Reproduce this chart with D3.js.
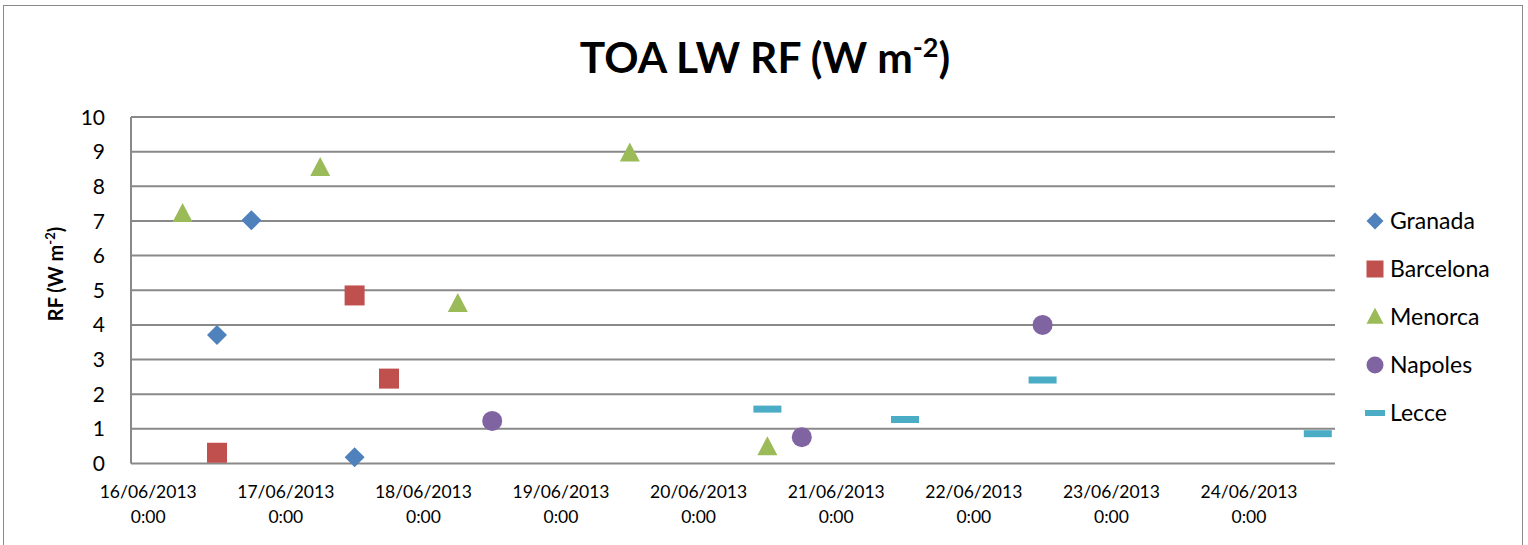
<!DOCTYPE html>
<html>
<head>
<meta charset="utf-8">
<script src="https://cdn.jsdelivr.net/npm/d3@7"></script>
<style>
  body { margin: 0; background: #fff; }
  svg { display: block; font-family: Lato, "Open Sans", sans-serif; }
</style>
</head>
<body>
<div class="container"></div>
<script>
const width = 1528, height = 545;
const margin = {top: 117, right: 193, bottom: 81, left: 131};

// data (dates dd/mm/yyyy hh:mm, RF in W m-2)
const seriesNames = ["Granada", "Barcelona", "Menorca", "Napoles", "Lecce"];
const granadaTimes = ["16/06/2013 12:00", "16/06/2013 18:00", "17/06/2013 12:00"];
const granadaValues = [3.71, 7.02, 0.18];
const barcelonaTimes = ["16/06/2013 12:00", "17/06/2013 12:00", "17/06/2013 18:00"];
const barcelonaValues = [0.31, 4.85, 2.45];
const menorcaTimes = ["16/06/2013 6:00", "17/06/2013 6:00", "18/06/2013 6:00", "19/06/2013 12:00", "20/06/2013 12:00"];
const menorcaValues = [7.2, 8.53, 4.6, 8.95, 0.47];
const napolesTimes = ["18/06/2013 12:00", "20/06/2013 18:00", "22/06/2013 12:00"];
const napolesValues = [1.23, 0.76, 4.0];
const lecceTimes = ["20/06/2013 12:00", "21/06/2013 12:00", "22/06/2013 12:00", "24/06/2013 12:00"];
const lecceValues = [1.57, 1.27, 2.41, 0.86];
const xTickLabels = ["16/06/2013", "17/06/2013", "18/06/2013", "19/06/2013", "20/06/2013",
                     "21/06/2013", "22/06/2013", "23/06/2013", "24/06/2013"];
const yTicks = [0, 1, 2, 3, 4, 5, 6, 7, 8, 9, 10];

const colors = ["#4F81BD", "#C0504D", "#9BBB59", "#8064A2", "#4BACC6"];
const shapes = ["diamond", "square", "triangle", "circle", "dash"];

const parseTime = d3.utcParse("%d/%m/%Y %H:%M");
const parseDay = d3.utcParse("%d/%m/%Y");

const series = [
  [granadaTimes, granadaValues],
  [barcelonaTimes, barcelonaValues],
  [menorcaTimes, menorcaValues],
  [napolesTimes, napolesValues],
  [lecceTimes, lecceValues]
].map(([t, v], i) => ({
  name: seriesNames[i], color: colors[i], shape: shapes[i],
  points: t.map((s, j) => ({date: parseTime(s), value: v[j]}))
}));

const svg = d3.select(".container").append("svg")
  .attr("width", width).attr("height", height);

// outer chart border
svg.append("rect")
  .attr("x", 3.5).attr("y", 5.5).attr("width", 1519).attr("height", 560)
  .attr("fill", "none").attr("stroke", "#898989").attr("stroke-width", 1);

const x = d3.scaleUtc()
  .domain([parseTime("15/06/2013 21:00"), parseTime("24/06/2013 15:00")])
  .range([margin.left, width - margin.right]);
const y = d3.scaleLinear().domain([0, 10]).range([height - margin.bottom - 0.5, margin.top]);

// gridlines
svg.append("g").selectAll("line").data(yTicks).join("line")
  .attr("x1", margin.left).attr("x2", width - margin.right)
  .attr("y1", d => y(d)).attr("y2", d => y(d))
  .attr("stroke", "#898989").attr("stroke-width", 2);

// left axis line
svg.append("line")
  .attr("x1", margin.left).attr("x2", margin.left)
  .attr("y1", y(10)).attr("y2", y(0))
  .attr("stroke", "#898989").attr("stroke-width", 2);

// y tick labels
svg.append("g").selectAll("text").data(yTicks).join("text")
  .attr("x", 105).attr("y", d => y(d))
  .attr("dy", "0.36em").attr("text-anchor", "end")
  .attr("font-size", 21).attr("fill", "#000")
  .text(d => d);

// x tick labels
const xl = svg.append("g").selectAll("text").data(xTickLabels).join("text")
  .attr("text-anchor", "middle").attr("font-size", 17.5).attr("fill", "#000");
xl.append("tspan").attr("x", d => x(parseDay(d))).attr("y", 498).text(d => d);
xl.append("tspan").attr("x", d => x(parseDay(d))).attr("y", 523).text("0:00");

// y axis title
svg.append("text")
  .attr("transform", "translate(63,274) rotate(-90)")
  .attr("text-anchor", "middle").attr("font-size", 20).attr("font-weight", "bold")
  .call(t => {
    t.append("tspan").text("RF (W m");
    t.append("tspan").attr("font-size", 13).attr("dy", -8).text("-2");
    t.append("tspan").attr("dy", 8).text(")");
  });

// chart title
svg.append("text")
  .attr("x", 765).attr("y", 73)
  .attr("text-anchor", "middle").attr("font-size", 42.5).attr("font-weight", "bold")
  .call(t => {
    t.append("tspan").text("TOA LW RF (W m");
    t.append("tspan").attr("font-size", 27).attr("dy", -16).text("-2");
    t.append("tspan").attr("dy", 16).text(")");
  });

// marker path generator centred on 0,0
const markerPath = shape => {
  const p = d3.path();
  if (shape === "diamond") {
    p.moveTo(0, -10); p.lineTo(10, 0); p.lineTo(0, 10); p.lineTo(-10, 0); p.closePath();
  } else if (shape === "square") {
    p.rect(-10, -10, 20, 20);
  } else if (shape === "triangle") {
    p.moveTo(0, -11); p.lineTo(10, 8); p.lineTo(-10, 8); p.closePath();
  } else if (shape === "circle") {
    p.arc(0, 0, 10, 0, 2 * Math.PI);
  } else {
    p.rect(-14, -3.5, 28, 7);
  }
  return p.toString();
};

// points
series.forEach(s => {
  svg.append("g").selectAll("path").data(s.points).join("path")
    .attr("transform", d => `translate(${x(d.date)},${y(d.value)})`)
    .attr("d", markerPath(s.shape))
    .attr("fill", s.color);
});

// legend
const legend = svg.append("g").selectAll("g").data(series).join("g")
  .attr("transform", (d, i) => `translate(1375,${221 + i * 48})`);
legend.append("path")
  .attr("d", d => d.shape === "dash"
    ? "M-10,-3H10V3H-10Z"
    : markerPath(d.shape))
  .attr("transform", d => d.shape === "dash" ? null : "scale(0.85)")
  .attr("fill", d => d.color);
legend.append("text")
  .attr("x", 15).attr("dy", "0.35em")
  .attr("font-size", 23).attr("fill", "#000")
  .text(d => d.name);
</script>
</body>
</html>
